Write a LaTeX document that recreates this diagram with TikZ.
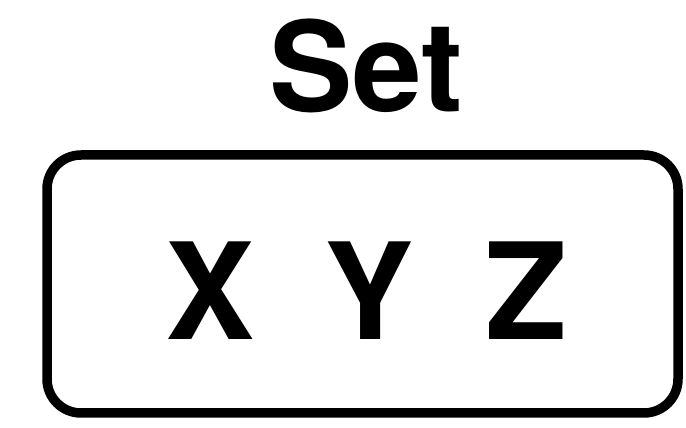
\documentclass[tikz,border=0pt]{standalone}
\usepackage{fontspec}
\setmainfont{TeX Gyre Heros}
\begin{document}
\begin{tikzpicture}[x=1pt,y=1pt,
  titletext/.style={inner sep=0pt,anchor=base,font=\bfseries\fontsize{125}{125}\selectfont},
  lettertext/.style={inner sep=0pt,anchor=base,font=\bfseries\fontsize{134}{134}\selectfont},
  setbox/.style={draw=black,line width=9.5pt,rounded corners=34pt,line join=round}]
\useasboundingbox (0,0) rectangle (686,428);
\node[titletext] (title) at (366,316) {Set};
\draw[setbox] (47,15) rectangle (678,273);
\coordinate (boxc) at (362,144);
\node[lettertext] (x) at (210,88) {X};
\node[lettertext] (y) at (369.5,88) {Y};
\node[lettertext] (z) at (526.5,88) {Z};
\end{tikzpicture}
\end{document}
